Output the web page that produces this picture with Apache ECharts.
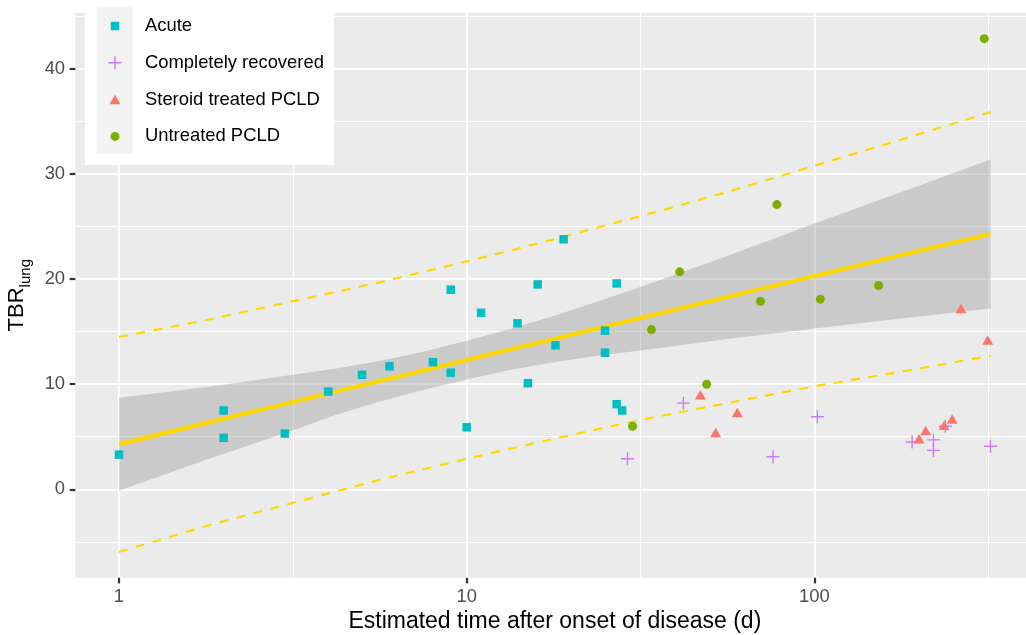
<!DOCTYPE html>
<html>
<head>
<meta charset="utf-8">
<script src="https://cdn.jsdelivr.net/npm/echarts@6/dist/echarts.min.js"></script>
<style>
html,body{margin:0;padding:0;background:#fff;}
#chart{width:1026px;height:635px;}
</style>
</head>
<body>
<div id="chart"></div>
<script>
// ---- data (days after onset, TBR_lung) ----
const acuteDays = [1, 2, 2, 3, 4, 5, 6, 8, 9, 9, 10, 11, 14, 15, 16, 18, 19, 25, 25, 27, 27, 28];
const acuteTBR  = [3.3, 7.5, 4.9, 5.3, 9.3, 10.9, 11.7, 12.1, 11.1, 19.0, 5.9, 16.8, 15.8, 10.1, 19.5, 13.7, 23.8, 15.1, 13.0, 19.6, 8.1, 7.5];

const recoveredDays = [29, 42, 76, 102, 191, 220, 220, 238, 321];
const recoveredTBR  = [2.9, 8.2, 3.1, 6.9, 4.5, 4.7, 3.7, 6.0, 4.1];

const steroidDays = [47, 52, 60, 200, 209, 236, 249, 264, 315];
const steroidTBR  = [9.0, 5.4, 7.3, 4.8, 5.6, 6.1, 6.7, 17.2, 14.2];

const untreatedDays = [30, 34, 41, 49, 70, 78, 104, 153, 308];
const untreatedTBR  = [6.0, 15.2, 20.7, 10.0, 17.9, 27.1, 18.1, 19.4, 42.9];

// regression fit, confidence band and prediction interval
const fitDays    = [1, 1.78, 3.16, 4.22, 5.62, 7.5, 10, 13.3, 17.8, 23.7, 31.6, 56.2, 100, 178, 321];
const fitValue   = [4.3, 6.3, 8.3, 9.3, 10.3, 11.3, 12.3, 13.3, 14.3, 15.3, 16.3, 18.3, 20.3, 22.3, 24.3];
const confLower  = [-0.15, 2.8, 5.6, 7.1, 8.35, 9.45, 10.45, 11.35, 12.1, 12.7, 13.2, 14.3, 15.3, 16.25, 17.2];
const confUpper  = [8.7, 9.7, 10.9, 11.5, 12.2, 13.1, 14.15, 15.25, 16.5, 17.85, 19.25, 22.2, 25.3, 28.3, 31.4];
const predLower  = [-5.98, -3.5, -1.3, -0.2, 0.9, 1.9, 2.9, 3.85, 4.8, 5.7, 6.6, 8.2, 9.8, 11.2, 12.7];
const predUpper  = [14.5, 16.1, 17.9, 18.8, 19.7, 20.7, 21.7, 22.7, 23.8, 24.9, 26.0, 28.3, 30.8, 33.3, 35.9];

// axis ticks
const xMajorTicks = [1, 10, 100];
const xMinorTicks = [3.1623, 31.623, 316.23];
const yMajorTicks = [0, 10, 20, 30, 40];
const yMinorTicks = [-5, 5, 15, 25, 35, 45];

const seriesNames = ['Acute', 'Completely recovered', 'Steroid treated PCLD', 'Untreated PCLD'];
const seriesColors = ['#00BFC4', '#C77CFF', '#F8766D', '#7CAE00'];

// ---- helpers ----
function pairs(xs, ys) { return xs.map((x, i) => [x, ys[i]]); }
const FRAME = 'M0,0L0,0M13,13L13,13';
const symbols = [
  'path://' + FRAME + 'M2.25,2.25H10.75V10.75H2.25Z',
  'path://' + FRAME + 'M5.8,0H7.2V5.8H13V7.2H7.2V13H5.8V7.2H0V5.8H5.8Z',
  'path://' + FRAME + 'M1,11.25L6.5,1.75L12,11.25Z',
  'path://' + FRAME + 'M2,6.5A4.5,4.5,0,1,1,11,6.5A4.5,4.5,0,1,1,2,6.5Z'
];
const pointData = [
  pairs(acuteDays, acuteTBR),
  pairs(recoveredDays, recoveredTBR),
  pairs(steroidDays, steroidTBR),
  pairs(untreatedDays, untreatedTBR)
];

const FONT = 'Liberation Sans, Arial, Helvetica, sans-serif';
const X_MIN = 0.7494, X_MAX = 429.0, Y_MIN = -8.42, Y_MAX = 45.37;

const chart = echarts.init(document.getElementById('chart'), null, {renderer: 'canvas'});

const bandData = fitDays.map((d, i) => [d, confLower[i], confUpper[i]]);

const option = {
  backgroundColor: '#ffffff',
  animation: false,
  textStyle: {fontFamily: FONT},
  grid: {left: 75.4, top: 12.7, width: 958.9, height: 565, show: true,
         backgroundColor: '#EBEBEB', borderWidth: 0,
         containLabel: false, outerBoundsMode: 'none'},
  xAxis: [
    {
      type: 'log', logBase: 10, min: X_MIN, max: X_MAX, position: 'bottom',
      name: 'Estimated time after onset of disease (d)',
      nameLocation: 'middle', nameGap: 31,
      nameTextStyle: {fontSize: 23, color: '#000', fontFamily: FONT},
      axisLine: {show: false, onZero: false},
      axisTick: {show: true, length: 5.7, lineStyle: {color: '#333333', width: 2.2}, customValues: xMajorTicks},
      axisLabel: {show: true, margin: 10, fontSize: 18.4, color: '#4D4D4D', fontFamily: FONT,
                  customValues: xMajorTicks, formatter: v => String(Math.round(v))},
      splitLine: {show: true, lineStyle: {color: '#ffffff', width: 2.2}},
      minorTick: {show: false}, minorSplitLine: {show: false}
    },
    {
      type: 'log', logBase: 10, min: X_MIN, max: X_MAX, position: 'bottom',
      axisLine: {show: false, onZero: false},
      axisTick: {show: false, customValues: xMinorTicks},
      axisLabel: {show: false, customValues: xMinorTicks},
      splitLine: {show: true, lineStyle: {color: '#ffffff', width: 1.1}}
    }
  ],
  yAxis: [
    {
      type: 'value', min: Y_MIN, max: Y_MAX, position: 'left',
      name: '{main|TBR}{sub|lung}',
      nameLocation: 'middle', nameGap: 36, nameRotate: 90,
      nameTextStyle: {
        color: '#000', fontFamily: FONT,
        rich: {
          main: {fontSize: 22, lineHeight: 34, verticalAlign: 'middle', color: '#000', fontFamily: FONT},
          sub: {fontSize: 15, lineHeight: 15, verticalAlign: 'bottom', color: '#000', fontFamily: FONT}
        }
      },
      axisLine: {show: false, onZero: false},
      axisTick: {show: true, length: 5.7, lineStyle: {color: '#333333', width: 2.2}, customValues: yMajorTicks},
      axisLabel: {show: true, margin: 10.3, fontSize: 18.4, color: '#4D4D4D', fontFamily: FONT,
                  customValues: yMajorTicks},
      splitLine: {show: true, lineStyle: {color: '#ffffff', width: 2.2}}
    },
    {
      type: 'value', min: Y_MIN, max: Y_MAX, position: 'left',
      axisLine: {show: false, onZero: false},
      axisTick: {show: false, customValues: yMinorTicks},
      axisLabel: {show: false, customValues: yMinorTicks},
      splitLine: {show: true, lineStyle: {color: '#ffffff', width: 1.1}}
    }
  ],
  legend: {
    data: seriesNames,
    orient: 'vertical',
    left: 103.5, top: 11,
    itemWidth: 13, itemHeight: 13,
    itemGap: 16.8,
    textStyle: {fontSize: 18.4, color: '#000', fontFamily: FONT, lineHeight: 20, padding: [0, 0, 0, 18.5]},
    selectedMode: false,
    z: 10
  },
  graphic: [
    {type: 'rect', shape: {x: 85, y: -2, width: 249, height: 167}, style: {fill: '#ffffff'}, z: 8, silent: true},
    {type: 'rect', shape: {x: 96.7, y: 6.7, width: 36, height: 147.3}, style: {fill: '#F2F2F2'}, z: 9, silent: true}
  ],
  series: [
    {
      name: 'band', type: 'custom', xAxisIndex: 0, yAxisIndex: 0,
      data: bandData, silent: true, z: 2,
      renderItem: function (params, api) {
        if (params.dataIndex !== 0) return null;
        const upper = bandData.map(d => api.coord([d[0], d[2]]));
        const lower = bandData.map(d => api.coord([d[0], d[1]])).reverse();
        return {
          type: 'polygon',
          shape: {points: upper.concat(lower)},
          style: {fill: 'rgba(153,153,153,0.4)', stroke: null}
        };
      }
    },
    {
      name: 'predUpper', type: 'line', data: pairs(fitDays, predUpper), showSymbol: false, silent: true, z: 3,
      lineStyle: {color: '#FFD700', width: 2.2, type: [9, 8.5]}
    },
    {
      name: 'predLower', type: 'line', data: pairs(fitDays, predLower), showSymbol: false, silent: true, z: 3,
      lineStyle: {color: '#FFD700', width: 2.2, type: [9, 8.5]}
    },
    {
      name: 'fit', type: 'line', data: pairs(fitDays, fitValue), showSymbol: false, silent: true, z: 3,
      lineStyle: {color: '#FFD700', width: 4.2}
    }
  ].concat(seriesNames.map((name, k) => ({
    name: name, type: 'scatter', data: pointData[k],
    symbol: symbols[k], symbolSize: 13, z: 5,
    itemStyle: {color: seriesColors[k], opacity: 1, borderWidth: 0}
  })))
};

chart.setOption(option);
</script>
</body>
</html>
